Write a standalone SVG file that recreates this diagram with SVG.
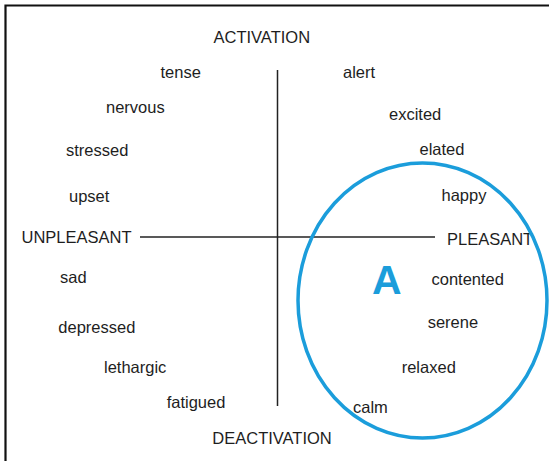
<svg xmlns="http://www.w3.org/2000/svg" width="549" height="461" viewBox="0 0 549 461">
  <style>
    .lbl { font-family: "Liberation Sans", Arial, sans-serif; font-size: 16.5px; fill: #1e1e1e; }
    .axis { stroke: #222; stroke-width: 1.5; fill: none; }
    .frame { stroke: #111; stroke-width: 2.2; fill: none; }
    .zone { stroke: #1b9ddb; stroke-width: 3.5; fill: none; }
    .zoneLbl { font-family: "Liberation Sans", Arial, sans-serif; font-size: 41px; font-weight: bold; fill: #1b9ddb; }
  </style>
  <rect width="549" height="461" fill="#ffffff"/>
  <!-- outer frame (top and left edges visible) -->
  <path class="frame" d="M5.5,461 V5.5 H549"/>

  <!-- connectors: the two axes -->
  <g id="connectors">
    <line class="axis" x1="277.5" y1="70" x2="277.5" y2="406"/>
    <line class="axis" x1="140" y1="237" x2="435" y2="237"/>
  </g>

  <!-- axis poles -->
  <g id="activation"><text class="lbl" x="213.5" y="42.5">ACTIVATION</text></g>
  <g id="deactivation"><text class="lbl" x="212.3" y="444">DEACTIVATION</text></g>
  <g id="unpleasant"><text class="lbl" x="21.5" y="242.5">UNPLEASANT</text></g>
  <g id="pleasant"><text class="lbl" x="447" y="245">PLEASANT</text></g>

  <!-- affect words -->
  <g id="tense"><text class="lbl" x="160.5" y="77.7">tense</text></g>
  <g id="alert"><text class="lbl" x="343" y="77.7">alert</text></g>
  <g id="nervous"><text class="lbl" x="106" y="113.3">nervous</text></g>
  <g id="excited"><text class="lbl" x="389" y="120">excited</text></g>
  <g id="stressed"><text class="lbl" x="66" y="156">stressed</text></g>
  <g id="elated"><text class="lbl" x="419.5" y="155">elated</text></g>
  <g id="upset"><text class="lbl" x="69" y="201.5">upset</text></g>
  <g id="happy"><text class="lbl" x="441.5" y="201">happy</text></g>
  <g id="sad"><text class="lbl" x="60" y="282.7">sad</text></g>
  <g id="contented"><text class="lbl" x="431.5" y="285">contented</text></g>
  <g id="depressed"><text class="lbl" x="58.3" y="332.7">depressed</text></g>
  <g id="serene"><text class="lbl" x="427.7" y="327.7">serene</text></g>
  <g id="lethargic"><text class="lbl" x="104" y="372.7">lethargic</text></g>
  <g id="relaxed"><text class="lbl" x="401.7" y="373">relaxed</text></g>
  <g id="fatigued"><text class="lbl" x="166.7" y="408.3">fatigued</text></g>
  <g id="calm"><text class="lbl" x="353" y="413">calm</text></g>

  <!-- highlighted region A -->
  <g id="zoneA">
    <ellipse class="zone" cx="422.5" cy="300.5" rx="124.5" ry="137.5"/>
    <text class="zoneLbl" x="372" y="294">A</text>
  </g>
</svg>
